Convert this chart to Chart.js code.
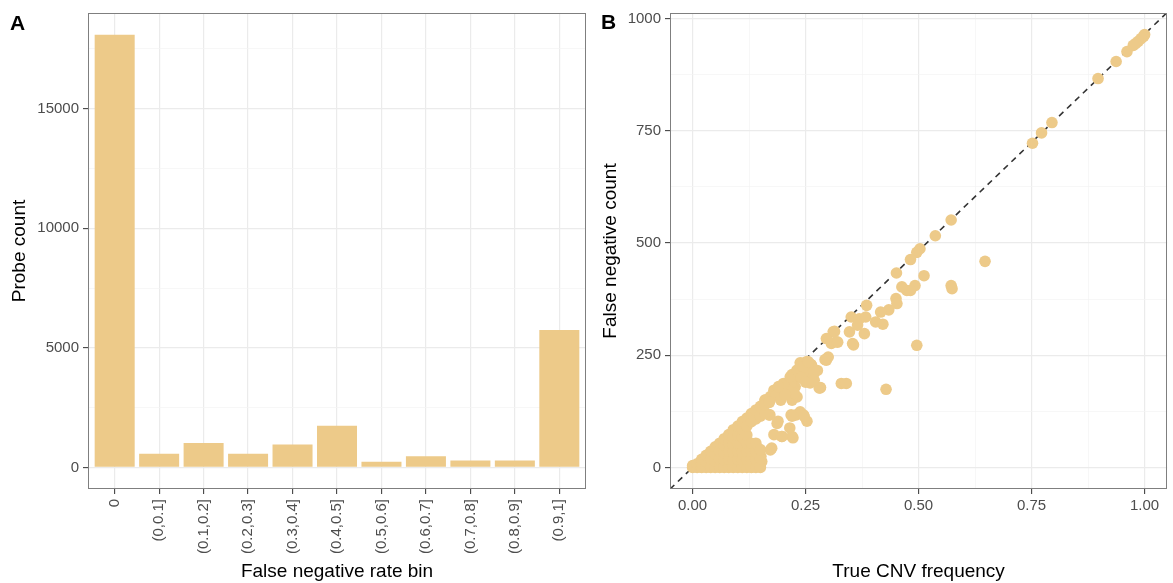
<!DOCTYPE html>
<html>
<head>
<meta charset="utf-8">
<script src="https://cdn.jsdelivr.net/npm/chart.js@4.4.1/dist/chart.umd.min.js"></script>
<style>
  html, body { margin: 0; padding: 0; background: #fff; }
  #wrap { position: relative; width: 1173px; height: 583px; background: #fff; overflow: hidden; }
  .panel { position: absolute; top: 0; }
  .tag { position: absolute; font: bold 21px "Liberation Sans", Arial, sans-serif; line-height: 21px; color: #000; }
</style>
</head>
<body>
<div id="wrap">
  <div class="panel" style="left:0px"><canvas id="binchart" width="590" height="583"></canvas></div>
  <div class="panel" style="left:590px"><canvas id="freqchart" width="583" height="583"></canvas></div>
  <div class="tag" style="left:10px; top:12px">A</div>
  <div class="tag" style="left:601px; top:11px">B</div>
</div>
<script>
// panel A: probes per false negative rate bin
const binLabels = ["0", "(0,0.1]", "(0.1,0.2]", "(0.2,0.3]", "(0.3,0.4]", "(0.4,0.5]",
                   "(0.5,0.6]", "(0.6,0.7]", "(0.7,0.8]", "(0.8,0.9]", "(0.9,1]"];
const probeCounts = [18100, 570, 1020, 570, 960, 1740, 240, 460, 290, 290, 5750];
const probeTicks = [0, 5000, 10000, 15000];
const probeMinorTicks = [2500, 7500, 12500, 17500];

// panel B: true CNV frequency vs false negative count, [freq, count]
const cnvPoints = [
  // top, on the diagonal
  [1.0, 964], [0.998, 960], [0.992, 955], [0.986, 949], [0.980, 944], [0.975, 940],
  [0.961, 926], [0.937, 904], [0.897, 866], [0.795, 768], [0.772, 745], [0.752, 722],
  // 0.3 - 0.65
  [0.572, 551], [0.537, 516], [0.503, 487], [0.496, 479], [0.482, 463], [0.451, 433],
  [0.512, 427], [0.647, 459], [0.572, 405], [0.574, 398], [0.492, 405], [0.474, 394],
  [0.463, 402], [0.482, 394], [0.450, 376], [0.452, 365], [0.434, 351], [0.416, 346],
  [0.385, 361], [0.351, 335], [0.369, 331], [0.383, 335], [0.405, 324], [0.421, 319],
  [0.347, 302], [0.365, 317], [0.380, 298], [0.496, 272], [0.311, 302], [0.296, 287],
  [0.318, 280], [0.307, 276], [0.354, 276], [0.314, 303], [0.321, 279], [0.356, 273],
  [0.300, 246], [0.296, 239], [0.293, 240], [0.428, 174], [0.329, 187], [0.340, 187],
  // 0.15 - 0.3
  [0.283, 178], [0.280, 177], [0.242, 232], [0.263, 228], [0.267, 213], [0.253, 206],
  [0.220, 198], [0.201, 176], [0.227, 180], [0.212, 169], [0.231, 157], [0.220, 150],
  [0.253, 236], [0.238, 233], [0.245, 210], [0.267, 207], [0.220, 207], [0.260, 188],
  [0.282, 177], [0.223, 173], [0.201, 180], [0.194, 166], [0.172, 158], [0.262, 229],
  [0.233, 209], [0.247, 216], [0.269, 194], [0.276, 216], [0.218, 187], [0.197, 165],
  [0.175, 157], [0.160, 150], [0.225, 165], [0.211, 172], [0.161, 150], [0.180, 172],
  [0.201, 187], [0.216, 202], [0.231, 217], [0.245, 224], [0.256, 235],
  [0.169, 117], [0.187, 98], [0.220, 114], [0.229, 117], [0.245, 117], [0.253, 103],
  [0.238, 124], [0.247, 114], [0.218, 117], [0.189, 103], [0.171, 117], [0.215, 88],
  [0.180, 73], [0.198, 69], [0.220, 69], [0.222, 66], [0.197, 69], [0.175, 43],
  [0.172, 39], [0.147, 10], [0.151, 25], [0.153, 13],
  [0.185, 160], [0.195, 150], [0.205, 162], [0.190, 180], [0.240, 200], [0.250, 190],
  // dense low corner
  [0.00, 0], [0.00, 4], [0.01, 0], [0.01, 8], [0.02, 0], [0.02, 9], [0.02, 18],
  [0.03, 0], [0.03, 13], [0.03, 27], [0.04, 0], [0.04, 18], [0.04, 36],
  [0.05, 0], [0.05, 15], [0.05, 30], [0.05, 46], [0.06, 0], [0.06, 18], [0.06, 36], [0.06, 54],
  [0.07, 0], [0.07, 16], [0.07, 33], [0.07, 49], [0.07, 64],
  [0.08, 0], [0.08, 18], [0.08, 36], [0.08, 54], [0.08, 73],
  [0.09, 0], [0.09, 17], [0.09, 34], [0.09, 51], [0.09, 68], [0.09, 84],
  [0.10, 0], [0.10, 18], [0.10, 36], [0.10, 54], [0.10, 72], [0.10, 92],
  [0.11, 0], [0.11, 17], [0.11, 34], [0.11, 51], [0.11, 68], [0.11, 85], [0.11, 102],
  [0.12, 0], [0.12, 18], [0.12, 36], [0.12, 54], [0.12, 72], [0.12, 92], [0.12, 110],
  [0.13, 0], [0.13, 18], [0.13, 36], [0.13, 54], [0.13, 102], [0.13, 120],
  [0.14, 0], [0.14, 18], [0.14, 36], [0.14, 54], [0.14, 108], [0.14, 128],
  [0.15, 0], [0.15, 20], [0.15, 40], [0.15, 114], [0.15, 136],
  [0.16, 120], [0.16, 140], [0.17, 145]
];
const freqTicks = [0, 0.25, 0.5, 0.75, 1];
const freqMinorTicks = [0.125, 0.375, 0.625, 0.875];
const countTicks = [0, 250, 500, 750, 1000];
const countMinorTicks = [125, 375, 625, 875];
const diagonalSlope = 965;

const barColor = "#EDCA89";
const tickText = "#4D4D4D";
const fontFamily = '"Liberation Sans", Arial, sans-serif';

Chart.defaults.font.family = fontFamily;
Chart.defaults.color = tickText;

// ggplot-ish panel border on all four sides
const panelBorder = {
  id: "panelBorder",
  afterDraw(chart) {
    const { ctx, chartArea: a } = chart;
    ctx.save();
    ctx.strokeStyle = "#7F7F7F";
    ctx.lineWidth = 1;
    ctx.strokeRect(Math.round(a.left) + 0.5, Math.round(a.top) + 0.5,
                   Math.round(a.right - a.left) - 1, Math.round(a.bottom - a.top) - 1);
    ctx.restore();
  },
};

const setTicks = (major, minor) => (scale) => {
  scale.ticks = major.concat(minor).sort((a, b) => a - b).map((v) => ({ value: v }));
};

const isMajorTick = (major, c) => !!(c && c.tick && major.includes(c.tick.value));

const gridFor = (major) => ({
  offset: false,
  color: (c) => (isMajorTick(major, c) ? "#EBEBEB" : "#F4F4F4"),
  lineWidth: (c) => (isMajorTick(major, c) ? 1.2 : 0.7),
  tickColor: (c) => (isMajorTick(major, c) ? "#444" : "rgba(0,0,0,0)"),
  tickLength: 5,
  tickWidth: 1.1,
});

const titleFont = { size: 19, family: fontFamily };
const tickFont = { size: 15, family: fontFamily };

// ---- panel A ----
const binIndex = binLabels.map((l, i) => i);
new Chart(document.getElementById("binchart").getContext("2d"), {
  type: "bar",
  data: {
    datasets: [
      {
        label: "Probe count",
        data: binIndex.map((i) => ({ x: i, y: probeCounts[i] })),
        backgroundColor: barColor,
        borderWidth: 0,
        barPercentage: 0.9,
        categoryPercentage: 1,
      },
    ],
  },
  options: {
    responsive: false,
    animation: false,
    devicePixelRatio: 1,
    layout: { padding: { top: 11, right: 4, left: 0, bottom: 0 } },
    plugins: { legend: { display: false }, tooltip: { enabled: false } },
    scales: {
      x: {
        type: "linear",
        offset: false,
        min: -0.6,
        max: 10.6,
        afterBuildTicks: setTicks(binIndex, []),
        afterFit: (s) => { s.height = 94; },
        grid: gridFor(binIndex),
        border: { display: false },
        ticks: {
          autoSkip: false,
          minRotation: 90,
          maxRotation: 90,
          padding: 5,
          font: tickFont,
          color: tickText,
          callback: (v) => binLabels[v],
        },
        title: {
          display: true,
          text: "False negative rate bin",
          color: "#000",
          font: titleFont,
          padding: { top: 3, bottom: 0 },
        },
      },
      y: {
        min: -905,
        max: 19005,
        afterBuildTicks: setTicks(probeTicks, probeMinorTicks),
        afterFit: (s) => { s.width = 88; },
        grid: gridFor(probeTicks),
        border: { display: false },
        ticks: {
          padding: 4,
          font: tickFont,
          color: tickText,
          callback: (v) => (probeTicks.includes(v) ? String(v) : ""),
        },
        title: {
          display: true,
          text: "Probe count",
          color: "#000",
          font: titleFont,
          padding: { top: 8, bottom: 0 },
        },
      },
    },
  },
  plugins: [panelBorder],
});

// ---- panel B ----
const freqMin = -0.05;
const freqMax = 1.05;
new Chart(document.getElementById("freqchart").getContext("2d"), {
  type: "scatter",
  data: {
    datasets: [
      {
        label: "probes",
        data: cnvPoints.map((p) => ({ x: p[0], y: p[1] })),
        backgroundColor: barColor,
        borderWidth: 0,
        pointRadius: 5.8,
        pointHoverRadius: 5.8,
      },
      {
        label: "identity",
        data: [
          { x: freqMin, y: freqMin * diagonalSlope },
          { x: freqMax, y: freqMax * diagonalSlope },
        ],
        showLine: true,
        pointRadius: 0,
        borderColor: "#333",
        borderWidth: 1.6,
        borderDash: [6, 5],
      },
    ],
  },
  options: {
    responsive: false,
    animation: false,
    devicePixelRatio: 1,
    layout: { padding: { top: 12, right: 1, left: 0, bottom: 0 } },
    plugins: { legend: { display: false }, tooltip: { enabled: false } },
    scales: {
      x: {
        type: "linear",
        min: freqMin,
        max: freqMax,
        afterBuildTicks: setTicks(freqTicks, freqMinorTicks),
        afterFit: (s) => { s.height = 94; },
        grid: gridFor(freqTicks),
        border: { display: false },
        ticks: {
          autoSkip: false,
          maxRotation: 0,
          padding: 3,
          font: tickFont,
          color: tickText,
          callback: (v) => (freqTicks.includes(v) ? v.toFixed(2) : ""),
        },
        title: {
          display: true,
          text: "True CNV frequency",
          color: "#000",
          font: titleFont,
          padding: { top: 3, bottom: 0 },
        },
      },
      y: {
        type: "linear",
        min: -48,
        max: 1012,
        afterBuildTicks: setTicks(countTicks, countMinorTicks),
        afterFit: (s) => { s.width = 80; },
        grid: gridFor(countTicks),
        border: { display: false },
        ticks: {
          padding: 4,
          font: tickFont,
          color: tickText,
          callback: (v) => (countTicks.includes(v) ? String(v) : ""),
        },
        title: {
          display: true,
          text: "False negative count",
          color: "#000",
          font: titleFont,
          padding: { top: 9, bottom: 0 },
        },
      },
    },
  },
  plugins: [panelBorder],
});
</script>
</body>
</html>
